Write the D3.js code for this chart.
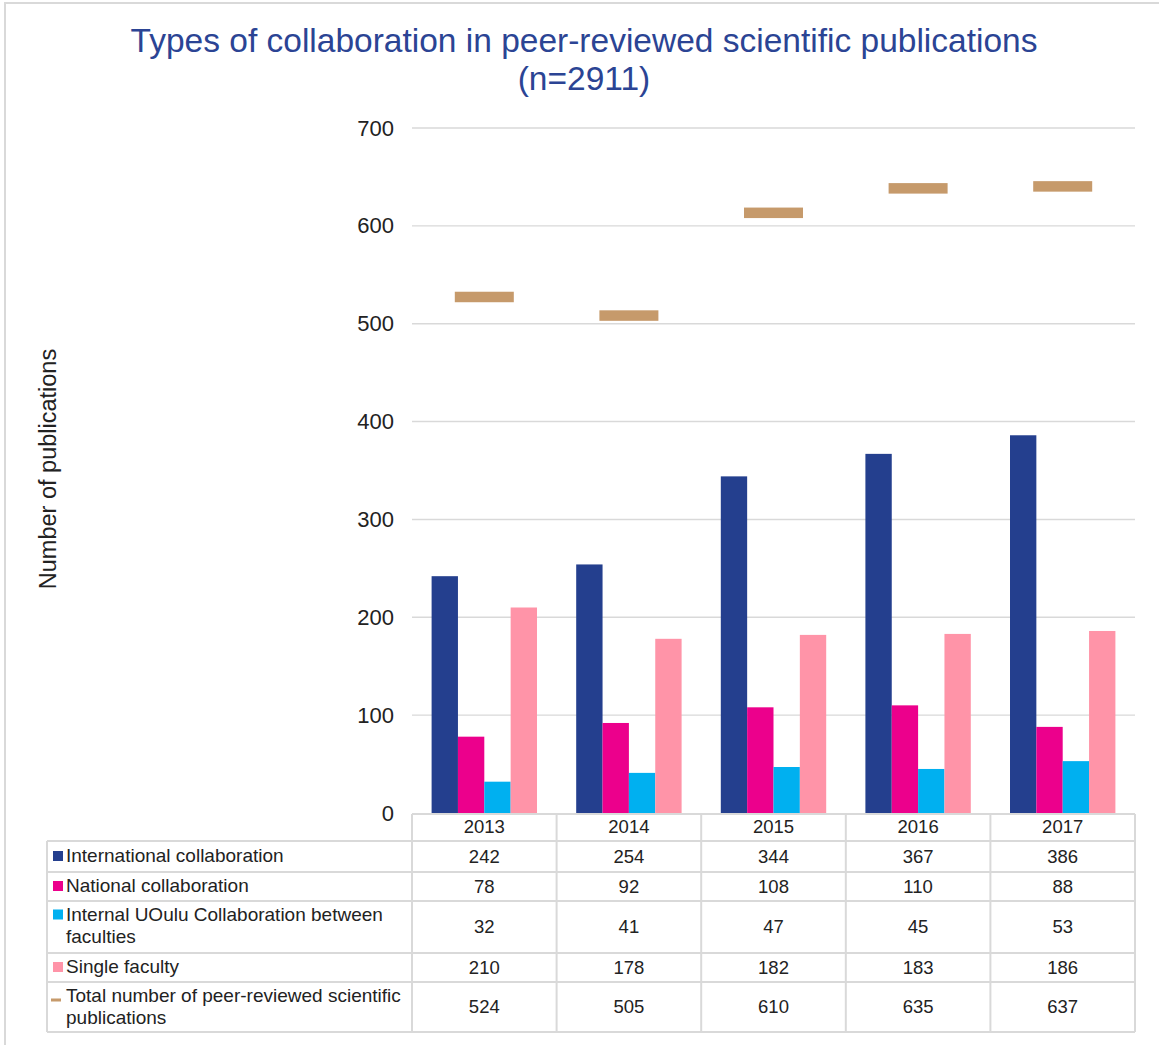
<!DOCTYPE html>
<html>
<head>
    <meta charset="utf-8">
    <title>Types of collaboration</title>
    <script src="https://d3js.org/d3.v7.min.js"></script>
    <style>
        body { margin: 0; background: #fff; }
        text { font-family: "Liberation Sans", Arial, sans-serif; }
    </style>
</head>
<body>
    <div id="chart"></div>
    <script>
        const years = ["2013", "2014", "2015", "2016", "2017"];
        const international = [242, 254, 344, 367, 386];
        const national = [78, 92, 108, 110, 88];
        const internal = [32, 41, 47, 45, 53];
        const single = [210, 178, 182, 183, 186];
        const totals = [524, 505, 610, 635, 637];
        const yTicks = [0, 100, 200, 300, 400, 500, 600, 700];

        const seriesNames = [
            ["International collaboration"],
            ["National collaboration"],
            ["Internal UOulu Collaboration between", "faculties"],
            ["Single faculty"],
            ["Total number of peer-reviewed scientific", "publications"]
        ];
        const colors = ["#243f8e", "#ec008c", "#00b0f0", "#ff94a8", "#c69a6b"];
        const barSeries = [international, national, internal, single];
        const allSeries = [international, national, internal, single, totals];

        const W = 1159, H = 1045;
        const plotLeft = 412, plotRight = 1135;
        const gridColor = "#d9d9d9";

        const svg = d3.select("#chart").append("svg")
            .attr("width", W)
            .attr("height", H);

        // outer frame (only top and left visible)
        svg.append("path")
            .attr("d", `M5,${H} V3 H${W}`)
            .attr("fill", "none")
            .attr("stroke", gridColor)
            .attr("stroke-width", 2);

        // title
        svg.append("text")
            .attr("x", 584).attr("y", 52)
            .attr("text-anchor", "middle")
            .attr("font-size", 33.5)
            .attr("fill", "#2b4494")
            .text("Types of collaboration in peer-reviewed scientific publications");
        svg.append("text")
            .attr("x", 584).attr("y", 90)
            .attr("text-anchor", "middle")
            .attr("font-size", 33.5)
            .attr("fill", "#2b4494")
            .text("(n=2911)");

        const y = d3.scaleLinear().domain([0, 700]).range([813, 128]);
        const x0 = d3.scaleBand().domain(years).range([plotLeft, plotRight]).padding(0);
        const groupPad = 19.6;
        const x1 = d3.scaleBand().domain(d3.range(4)).range([groupPad, x0.bandwidth() - groupPad]);

        // gridlines
        svg.append("g").selectAll("line")
            .data(yTicks.filter(t => t > 0))
            .join("line")
            .attr("x1", plotLeft).attr("x2", plotRight)
            .attr("y1", d => y(d)).attr("y2", d => y(d))
            .attr("stroke", gridColor)
            .attr("stroke-width", 1.4);

        // y axis labels
        const yAxis = svg.append("g")
            .attr("transform", `translate(${plotLeft},0)`)
            .call(d3.axisLeft(y).tickValues(yTicks).tickSize(0).tickPadding(18));
        yAxis.select(".domain").remove();
        yAxis.selectAll("text")
            .attr("font-size", 22)
            .attr("fill", "#222")
            .style("font-family", "'Liberation Sans', Arial, sans-serif");

        svg.append("text")
            .attr("transform", "translate(56,469) rotate(-90)")
            .attr("text-anchor", "middle")
            .attr("font-size", 23.5)
            .attr("fill", "#222")
            .text("Number of publications");

        // bars
        barSeries.forEach((vals, si) => {
            svg.append("g").selectAll("rect")
                .data(vals)
                .join("rect")
                .attr("x", (d, i) => x0(years[i]) + x1(si))
                .attr("y", d => y(d))
                .attr("width", x1.bandwidth())
                .attr("height", d => y(0) - y(d))
                .attr("fill", colors[si]);
        });

        // total markers
        const markW = 59, markH = 10.5;
        svg.append("g").selectAll("rect")
            .data(totals)
            .join("rect")
            .attr("x", (d, i) => x0(years[i]) + x0.bandwidth() / 2 - markW / 2)
            .attr("y", d => y(d) - 8.5)
            .attr("width", markW)
            .attr("height", markH)
            .attr("fill", colors[4]);

        // data table
        const rowEdges = [841, 872, 901, 953, 982, 1032];
        const tableLeft = 47;
        const table = svg.append("g")
            .attr("stroke", gridColor)
            .attr("stroke-width", 2)
            .attr("fill", "none");

        table.append("line").attr("x1", plotLeft).attr("x2", plotRight).attr("y1", 814).attr("y2", 814);
        rowEdges.forEach(ry => {
            table.append("line").attr("x1", tableLeft).attr("x2", plotRight).attr("y1", ry).attr("y2", ry);
        });
        table.append("line").attr("x1", tableLeft).attr("x2", tableLeft).attr("y1", 841).attr("y2", 1032);
        years.forEach(yr => {
            table.append("line").attr("x1", x0(yr)).attr("x2", x0(yr)).attr("y1", 814).attr("y2", 1032);
        });
        table.append("line").attr("x1", plotRight).attr("x2", plotRight).attr("y1", 814).attr("y2", 1032);

        // year headers
        svg.append("g").selectAll("text")
            .data(years)
            .join("text")
            .attr("x", d => x0(d) + x0.bandwidth() / 2)
            .attr("y", 833)
            .attr("text-anchor", "middle")
            .attr("font-size", 18.5)
            .attr("fill", "#222")
            .text(d => d);

        // rows
        allSeries.forEach((vals, ri) => {
            const top = rowEdges[ri], bottom = rowEdges[ri + 1];
            const mid = (top + bottom) / 2;
            const lines = seriesNames[ri];
            const firstBase = lines.length > 1 ? top + 19.5 : mid + 5.5;

            lines.forEach((ln, li) => {
                svg.append("text")
                    .attr("x", 66)
                    .attr("y", firstBase + li * 22)
                    .attr("font-size", 19)
                    .attr("fill", "#222")
                    .text(ln);
            });

            if (ri < 4) {
                svg.append("rect")
                    .attr("x", 53).attr("y", firstBase - 11)
                    .attr("width", 10).attr("height", 10)
                    .attr("fill", colors[ri]);
            } else {
                svg.append("rect")
                    .attr("x", 51).attr("y", firstBase - 3)
                    .attr("width", 10).attr("height", 3)
                    .attr("fill", colors[ri]);
            }

            svg.append("g").selectAll("text")
                .data(vals)
                .join("text")
                .attr("x", (d, i) => x0(years[i]) + x0.bandwidth() / 2)
                .attr("y", mid + 6)
                .attr("text-anchor", "middle")
                .attr("font-size", 18.5)
                .attr("fill", "#222")
                .text(d => d);
        });
    </script>
</body>
</html>
